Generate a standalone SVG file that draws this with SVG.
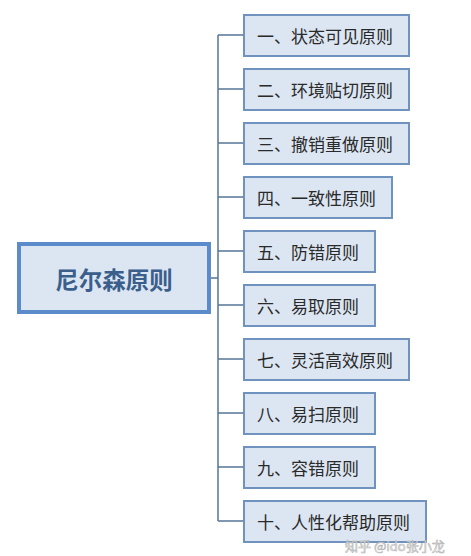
<svg xmlns="http://www.w3.org/2000/svg" width="471" height="556" viewBox="0 0 471 556">
<style>
.bg{fill:#ffffff}
.box{fill:#dce6f2;stroke:#6f92bf;stroke-width:2}
.root{fill:#dce6f2;stroke:#5b8bcb;stroke-width:4}
.lbl{font-family:"Noto Sans CJK SC","Noto Sans",sans-serif;font-size:17px;fill:#2a2a2a;dominant-baseline:central}
.rlbl{font-family:"Noto Sans CJK SC","Noto Sans",sans-serif;font-size:23.5px;font-weight:bold;fill:#3a5f8c;dominant-baseline:central;text-anchor:middle}
.conn{stroke:#557596;stroke-width:1.5;fill:none}
.wm{font-family:"Noto Sans CJK SC","Noto Sans",sans-serif;font-size:13px;fill:#ffffff;fill-opacity:0.85;stroke:#b0b0b0;stroke-width:0.6;dominant-baseline:central}
</style>
<rect class="bg" x="0" y="0" width="471" height="556"/>
<g id="connectors">
<path class="conn" d="M211 278H218M218 35V521M218 35H243M218 89H243M218 143H243M218 197H243M218 251H243M218 305H243M218 359H243M218 413H243M218 467H243M218 521H243"/>
</g>
<g id="root"><rect class="root" x="19" y="244" width="190" height="68"/><text class="rlbl" x="114" y="279">尼尔森原则</text></g>
<g id="n1"><rect class="box" x="244" y="15" width="165" height="41"/><text class="lbl" x="257" y="35.5">一、状态可见原则</text></g>
<g id="n2"><rect class="box" x="244" y="69" width="165" height="41"/><text class="lbl" x="257" y="89.5">二、环境贴切原则</text></g>
<g id="n3"><rect class="box" x="244" y="123" width="165" height="41"/><text class="lbl" x="257" y="143.5">三、撤销重做原则</text></g>
<g id="n4"><rect class="box" x="244" y="177" width="148" height="41"/><text class="lbl" x="257" y="197.5">四、一致性原则</text></g>
<g id="n5"><rect class="box" x="244" y="231" width="131" height="41"/><text class="lbl" x="257" y="251.5">五、防错原则</text></g>
<g id="n6"><rect class="box" x="244" y="285" width="131" height="41"/><text class="lbl" x="257" y="305.5">六、易取原则</text></g>
<g id="n7"><rect class="box" x="244" y="339" width="165" height="41"/><text class="lbl" x="257" y="359.5">七、灵活高效原则</text></g>
<g id="n8"><rect class="box" x="244" y="393" width="131" height="41"/><text class="lbl" x="257" y="413.5">八、易扫原则</text></g>
<g id="n9"><rect class="box" x="244" y="447" width="131" height="41"/><text class="lbl" x="257" y="467.5">九、容错原则</text></g>
<g id="n10"><rect class="box" x="244" y="501" width="182" height="41"/><text class="lbl" x="257" y="521.5">十、人性化帮助原则</text></g>
<text class="wm" x="345" y="545">知乎 @ido张小龙</text>
</svg>
